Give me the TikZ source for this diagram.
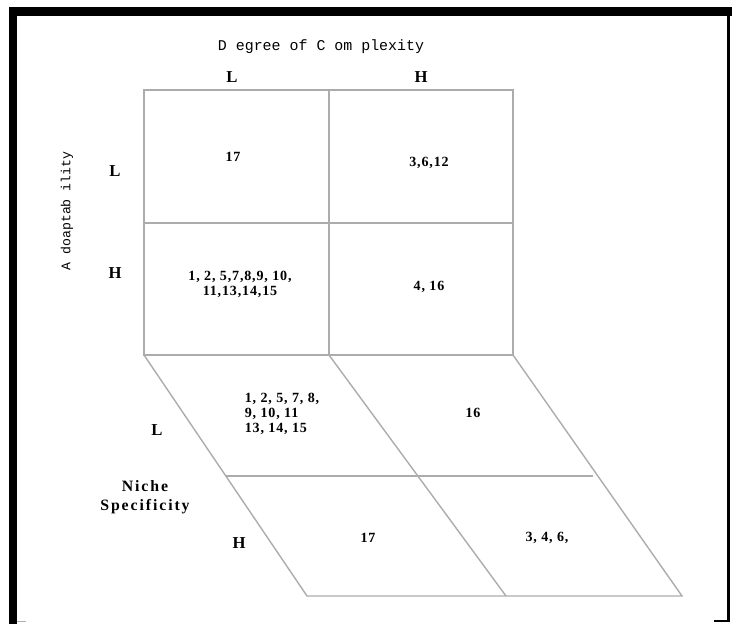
\documentclass[tikz,border=0pt]{standalone}
\usepackage{fontspec}
\setmainfont{Liberation Serif}
\setmonofont{Liberation Mono}
\newfontfamily\spacedfont[LetterSpace=6]{Liberation Serif}
\newfontfamily\widefont[LetterSpace=12]{Liberation Serif}
\usetikzlibrary{positioning}
\definecolor{rahmen}{RGB}{0,0,0}
\definecolor{linie}{RGB}{172,172,172}

\begin{document}
\begin{tikzpicture}[x=0.02cm, y=-0.02cm,
                      grid/.style = {
                        draw=linie, line width=0.8pt
                      },
                      axis/.style = {
                        font=\ttfamily\fontsize{8.5}{10}\selectfont,
                        inner sep=0pt
                      },
                      level/.style = {
                        font=\bfseries\fontsize{9.5}{11}\selectfont,
                        inner sep=0pt
                      },
                      cell/.style = {
                        font=\spacedfont\bfseries\fontsize{8}{8.5}\selectfont,
                        align=center, inner sep=0pt
                      },
                      niche/.style = {
                        font=\widefont\bfseries\fontsize{9}{10.5}\selectfont,
                        align=center, inner sep=0pt
                      }]
    \useasboundingbox (0,0) rectangle (732,624);

    \fill[rahmen] (9,7) rectangle (732,16);
    \fill[rahmen] (9,7) rectangle (17,624);
    \fill[rahmen] (727,16) rectangle (730,622);
    \fill[rahmen] (714,620) rectangle (730,622);
    \draw[linie] (17,621) -- (26,621);

    \coordinate (a1) at (144,90);
    \coordinate (a2) at (329,90);
    \coordinate (a3) at (513,90);
    \coordinate (b1) at (144,223);
    \coordinate (b3) at (513,223);
    \coordinate (c1) at (144,355);
    \coordinate (c2) at (329,355);
    \coordinate (c3) at (513,355);
    \coordinate (d1) at (226,476);
    \coordinate (d3) at (593,476);
    \coordinate (e1) at (307,596);
    \coordinate (e2) at (506,596);
    \coordinate (e3) at (682,596);

    \draw[grid] (a1) rectangle (c3);
    \draw[grid] (a2) -- (c2);
    \draw[grid] (b1) -- (b3);
    \draw[grid] (c1) -- (e1) -- (e3) -- (c3);
    \draw[grid] (c2) -- (e2);
    \draw[grid] (d1) -- (d3);

    \node(complexity)[axis] at (321,47) {D egree of C om plexity};
    \node(colL)[level] at (232,77) {L};
    \node(colH)[level] at (421,77) {H};
    \node(adapt)[axis, font=\ttfamily\fontsize{7.5}{9}\selectfont, rotate=90]
        at (67,211) {A doaptab ility};
    \node(rowL)[level] at (115,171) {L};
    \node(rowH)[level] at (115,273) {H};

    \node(ll)[cell] at (233,157) {17};
    \node(lh)[cell] at (429,163) {3,6,12};
    \node(hl)[cell] at (240,284) {1, 2, 5,7,8,9, 10,\\11,13,14,15};
    \node(hh)[cell] at (429,287) {4, 16};

    \node(nicheL)[level] at (157,430) {L};
    \node(niche)[niche] at (145,497) {Niche\\Specificity};
    \node(nicheH)[level] at (239,543) {H};

    \node(pl)[cell, align=left] at (282,414) {1, 2, 5, 7, 8,\\ 9, 10, 11\\13, 14, 15};
    \node(pr)[cell] at (473,413) {16};
    \node(ql)[cell] at (368,538) {17};
    \node(qr)[cell] at (547,538) {3, 4, 6,};
\end{tikzpicture}
\end{document}
